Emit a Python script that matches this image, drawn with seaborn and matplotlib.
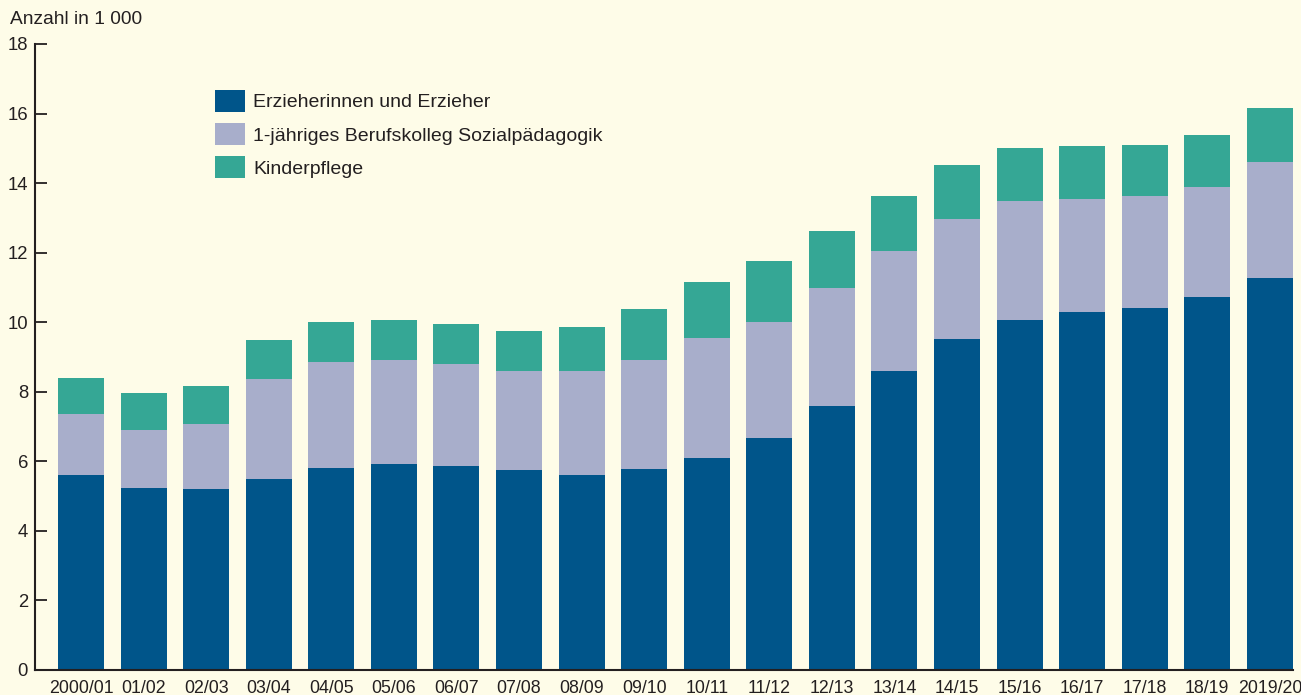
import numpy as np
import pandas as pd
import matplotlib
matplotlib.use("Agg")
import matplotlib.pyplot as plt
import seaborn as sns
from matplotlib.patches import Patch

years = ["2000/01", "01/02", "02/03", "03/04", "04/05", "05/06", "06/07", "07/08",
         "08/09", "09/10", "10/11", "11/12", "12/13", "13/14", "14/15", "15/16",
         "16/17", "17/18", "18/19", "2019/20"]
erzieher = [5.60, 5.23, 5.20, 5.49, 5.80, 5.92, 5.86, 5.75, 5.60, 5.78,
            6.09, 6.67, 7.59, 8.59, 9.51, 10.06, 10.29, 10.40, 10.72, 11.26]
berufskolleg = [1.76, 1.67, 1.87, 2.87, 3.05, 2.99, 2.93, 2.84, 2.99, 3.13,
                3.45, 3.33, 3.39, 3.45, 3.45, 3.42, 3.24, 3.22, 3.16, 3.34]
kinderpflege = [1.03, 1.06, 1.09, 1.12, 1.15, 1.15, 1.15, 1.15, 1.27, 1.46,
                1.61, 1.75, 1.63, 1.58, 1.55, 1.52, 1.53, 1.47, 1.49, 1.55]
labels = ["Erzieherinnen und Erzieher", "1-jähriges Berufskolleg Sozialpädagogik", "Kinderpflege"]
colors = ["#00558A", "#A8AECB", "#35A795"]
bg = "#FEFCE8"
txt = "#231F20"

df = pd.DataFrame({"year": years, "e": erzieher, "b": berufskolleg, "k": kinderpflege})
df["c1"] = df["e"]
df["c2"] = df["e"] + df["b"]
df["c3"] = df["c2"] + df["k"]

sns.set_theme(style="white")
plt.rcParams["font.family"] = ["Liberation Sans", "DejaVu Sans"]

W, H = 1301, 695
fig = plt.figure(figsize=(W / 100, H / 100), dpi=100, facecolor=bg)
ax = fig.add_axes([35 / W, 1 - 670 / H, (1293 - 35) / W, (670 - 44) / H])
ax.set_facecolor(bg)

bw = 0.735
for col, c in zip(["c3", "c2", "c1"], colors[::-1]):
    sns.barplot(data=df, x="year", y=col, color=c, width=bw, ax=ax,
                saturation=1, linewidth=0, edgecolor=c)

ax.set_xlim(-0.735, 19.37)
ax.set_ylim(0, 18)
ax.set_yticks(range(0, 19, 2))
ax.set_xlabel("")
ax.set_ylabel("")
for s in ["top", "right"]:
    ax.spines[s].set_visible(False)
for s in ["left", "bottom"]:
    ax.spines[s].set_color(txt)
    ax.spines[s].set_linewidth(1.5)
ax.tick_params(axis="y", left=True, direction="in", length=8.5, width=1.3, color=txt,
               labelsize=13.3, labelcolor=txt, pad=5)
ax.tick_params(axis="x", bottom=False, length=0, labelsize=12.8, labelcolor=txt, pad=7)
for lab in ax.get_xticklabels():
    if lab.get_text() == "2019/20":
        lab.set_horizontalalignment("center")

fig.text(10 / W, 1 - 20 / H, "Anzahl in 1 000", fontsize=13.75, color=txt,
         va="center", ha="left")

handles = [Patch(facecolor=c, edgecolor="none") for c in colors]
fig.legend(handles, labels, loc="upper left",
           bbox_to_anchor=(215 / W, 1 - 90 / H), bbox_transform=fig.transFigure,
           frameon=False, fontsize=14, handlelength=1.55, handleheight=1.35,
           handletextpad=0.4, labelspacing=0.58, borderpad=0, borderaxespad=0,
           labelcolor=txt)

fig.savefig("out.png", dpi=100, facecolor=bg)
